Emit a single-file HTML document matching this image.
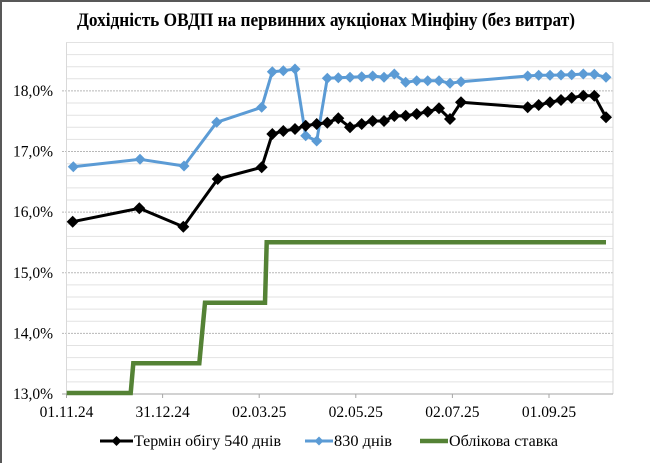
<!DOCTYPE html>
<html><head><meta charset="utf-8"><style>
html,body{margin:0;padding:0;background:#fff;}
svg{display:block;}
text{font-family:"Liberation Serif","Noto Serif CJK SC",serif;fill:#000;}
</style></head><body>
<svg width="650" height="463" viewBox="0 0 650 463" xmlns="http://www.w3.org/2000/svg">
<rect x="0" y="0" width="650" height="463" fill="#fff"/>
<rect x="0" y="0" width="650" height="2" fill="#585858"/>
<rect x="0" y="0" width="2" height="463" fill="#585858"/>
<text x="77" y="26" font-size="19" font-weight="bold" textLength="498" lengthAdjust="spacingAndGlyphs">Дохідність ОВДП на первинних аукціонах Мінфіну (без витрат)</text>
<g stroke="#e2e2e2" stroke-width="1">
<line x1="66" y1="42.5" x2="613" y2="42.5"/><line x1="66" y1="54.6" x2="613" y2="54.6"/><line x1="66" y1="66.7" x2="613" y2="66.7"/><line x1="66" y1="78.8" x2="613" y2="78.8"/>
<line x1="66" y1="103.0" x2="613" y2="103.0"/><line x1="66" y1="115.2" x2="613" y2="115.2"/><line x1="66" y1="127.3" x2="613" y2="127.3"/><line x1="66" y1="139.4" x2="613" y2="139.4"/>
<line x1="66" y1="163.7" x2="613" y2="163.7"/><line x1="66" y1="175.8" x2="613" y2="175.8"/><line x1="66" y1="187.9" x2="613" y2="187.9"/><line x1="66" y1="200.0" x2="613" y2="200.0"/>
<line x1="66" y1="224.3" x2="613" y2="224.3"/><line x1="66" y1="236.4" x2="613" y2="236.4"/><line x1="66" y1="248.5" x2="613" y2="248.5"/><line x1="66" y1="260.6" x2="613" y2="260.6"/>
<line x1="66" y1="284.9" x2="613" y2="284.9"/><line x1="66" y1="297.0" x2="613" y2="297.0"/><line x1="66" y1="309.1" x2="613" y2="309.1"/><line x1="66" y1="321.2" x2="613" y2="321.2"/>
<line x1="66" y1="345.5" x2="613" y2="345.5"/><line x1="66" y1="357.6" x2="613" y2="357.6"/><line x1="66" y1="369.8" x2="613" y2="369.8"/><line x1="66" y1="381.9" x2="613" y2="381.9"/>
</g>
<g stroke="#b8b8b8" stroke-width="1" stroke-dasharray="2,1">
<line x1="62" y1="90.9" x2="613" y2="90.9"/>
<line x1="62" y1="151.5" x2="613" y2="151.5"/>
<line x1="62" y1="212.1" x2="613" y2="212.1"/>
<line x1="62" y1="272.8" x2="613" y2="272.8"/>
<line x1="62" y1="333.4" x2="613" y2="333.4"/>
</g>
<g stroke="#d9d9d9" stroke-width="1" fill="none">
<line x1="66.5" y1="42.5" x2="66.5" y2="394"/>
<line x1="613" y1="42.5" x2="613" y2="394"/>
</g>
<g stroke="#a6a6a6" stroke-width="1">
<line x1="62" y1="394" x2="613" y2="394"/>
<line x1="66.5" y1="394" x2="66.5" y2="398"/>
<line x1="162.6" y1="394" x2="162.6" y2="398"/>
<line x1="259.2" y1="394" x2="259.2" y2="398"/>
<line x1="355.8" y1="394" x2="355.8" y2="398"/>
<line x1="452.4" y1="394" x2="452.4" y2="398"/>
<line x1="549" y1="394" x2="549" y2="398"/>
</g>
<g font-size="15.5" text-anchor="end">
<text x="53" y="96">18,0%</text>
<text x="53" y="156.6">17,0%</text>
<text x="53" y="217.2">16,0%</text>
<text x="53" y="277.9">15,0%</text>
<text x="53" y="338.5">14,0%</text>
<text x="53" y="399.1">13,0%</text>
</g>
<g font-size="15.5" text-anchor="middle">
<text x="66.5" y="417">01.11.24</text>
<text x="162.6" y="417">31.12.24</text>
<text x="259.2" y="417">02.03.25</text>
<text x="355.8" y="417">02.05.25</text>
<text x="452.4" y="417">02.07.25</text>
<text x="549" y="417">01.09.25</text>
</g>
<polyline fill="none" stroke="#548235" stroke-width="4.5" stroke-linejoin="miter" points="66.7,393 130.7,393 133.3,363.3 199.3,363.3 205,302.7 265,302.7 266.7,242.3 606,242.3"/>
<polyline fill="none" stroke="#5b9bd5" stroke-width="3" stroke-linejoin="round" points="73.3,166.7 140,159.3 184,166 216.7,122.3 261.7,107.3 272.3,71.7 283.3,70.7 295,69 305.7,135.7 316.7,141 327.3,78.3 338.3,77.7 350,77.3 361.7,76.7 372.7,76 384,77.3 394.3,74 405.7,82.3 416.7,80.7 427.7,80.7 439,80.7 450,83.3 461,81.7 527.7,76 538.7,75.3 550,75.3 561,75 571.7,74.7 583.3,74 594.3,74.3 606,77.3"/>
<g fill="#5b9bd5" id="bm">
<path d="M73.3,161.2l5.5,5.5l-5.5,5.5l-5.5,-5.5z"/>
<path d="M140,153.8l5.5,5.5l-5.5,5.5l-5.5,-5.5z"/>
<path d="M184,160.5l5.5,5.5l-5.5,5.5l-5.5,-5.5z"/>
<path d="M216.7,116.8l5.5,5.5l-5.5,5.5l-5.5,-5.5z"/>
<path d="M261.7,101.8l5.5,5.5l-5.5,5.5l-5.5,-5.5z"/>
<path d="M272.3,66.2l5.5,5.5l-5.5,5.5l-5.5,-5.5z"/>
<path d="M283.3,65.2l5.5,5.5l-5.5,5.5l-5.5,-5.5z"/>
<path d="M295,63.5l5.5,5.5l-5.5,5.5l-5.5,-5.5z"/>
<path d="M305.7,130.2l5.5,5.5l-5.5,5.5l-5.5,-5.5z"/>
<path d="M316.7,135.5l5.5,5.5l-5.5,5.5l-5.5,-5.5z"/>
<path d="M327.3,72.8l5.5,5.5l-5.5,5.5l-5.5,-5.5z"/>
<path d="M338.3,72.2l5.5,5.5l-5.5,5.5l-5.5,-5.5z"/>
<path d="M350,71.8l5.5,5.5l-5.5,5.5l-5.5,-5.5z"/>
<path d="M361.7,71.2l5.5,5.5l-5.5,5.5l-5.5,-5.5z"/>
<path d="M372.7,70.5l5.5,5.5l-5.5,5.5l-5.5,-5.5z"/>
<path d="M384,71.8l5.5,5.5l-5.5,5.5l-5.5,-5.5z"/>
<path d="M394.3,68.5l5.5,5.5l-5.5,5.5l-5.5,-5.5z"/>
<path d="M405.7,76.8l5.5,5.5l-5.5,5.5l-5.5,-5.5z"/>
<path d="M416.7,75.2l5.5,5.5l-5.5,5.5l-5.5,-5.5z"/>
<path d="M427.7,75.2l5.5,5.5l-5.5,5.5l-5.5,-5.5z"/>
<path d="M439,75.2l5.5,5.5l-5.5,5.5l-5.5,-5.5z"/>
<path d="M450,77.8l5.5,5.5l-5.5,5.5l-5.5,-5.5z"/>
<path d="M461,76.2l5.5,5.5l-5.5,5.5l-5.5,-5.5z"/>
<path d="M527.7,70.5l5.5,5.5l-5.5,5.5l-5.5,-5.5z"/>
<path d="M538.7,69.8l5.5,5.5l-5.5,5.5l-5.5,-5.5z"/>
<path d="M550,69.8l5.5,5.5l-5.5,5.5l-5.5,-5.5z"/>
<path d="M561,69.5l5.5,5.5l-5.5,5.5l-5.5,-5.5z"/>
<path d="M571.7,69.2l5.5,5.5l-5.5,5.5l-5.5,-5.5z"/>
<path d="M583.3,68.5l5.5,5.5l-5.5,5.5l-5.5,-5.5z"/>
<path d="M594.3,68.8l5.5,5.5l-5.5,5.5l-5.5,-5.5z"/>
<path d="M606,71.8l5.5,5.5l-5.5,5.5l-5.5,-5.5z"/>
</g>
<polyline fill="none" stroke="#000" stroke-width="3" stroke-linejoin="round" points="72.7,221.7 139.3,208.3 183.3,226.7 217.7,179 261.7,167.3 272.3,134 283.3,131 295,129 305.7,125.7 316.7,124 327.3,122.7 338.3,118.3 350,127.3 361.7,124 372.7,121 384,121 394.3,116 405.7,115.7 416.7,114 427.7,111.7 439,108.3 450,119 461,102.3 527.7,107.3 538.7,105 550,102.3 561,100 571.7,97.7 583.3,95.7 594.3,95.7 606,117.3"/>
<g fill="#000">
<path d="M72.7,215.7l6,6l-6,6l-6,-6z"/>
<path d="M139.3,202.3l6,6l-6,6l-6,-6z"/>
<path d="M183.3,220.7l6,6l-6,6l-6,-6z"/>
<path d="M217.7,173l6,6l-6,6l-6,-6z"/>
<path d="M261.7,161.3l6,6l-6,6l-6,-6z"/>
<path d="M272.3,128l6,6l-6,6l-6,-6z"/>
<path d="M283.3,125l6,6l-6,6l-6,-6z"/>
<path d="M295,123l6,6l-6,6l-6,-6z"/>
<path d="M305.7,119.7l6,6l-6,6l-6,-6z"/>
<path d="M316.7,118l6,6l-6,6l-6,-6z"/>
<path d="M327.3,116.7l6,6l-6,6l-6,-6z"/>
<path d="M338.3,112.3l6,6l-6,6l-6,-6z"/>
<path d="M350,121.3l6,6l-6,6l-6,-6z"/>
<path d="M361.7,118l6,6l-6,6l-6,-6z"/>
<path d="M372.7,115l6,6l-6,6l-6,-6z"/>
<path d="M384,115l6,6l-6,6l-6,-6z"/>
<path d="M394.3,110l6,6l-6,6l-6,-6z"/>
<path d="M405.7,109.7l6,6l-6,6l-6,-6z"/>
<path d="M416.7,108l6,6l-6,6l-6,-6z"/>
<path d="M427.7,105.7l6,6l-6,6l-6,-6z"/>
<path d="M439,102.3l6,6l-6,6l-6,-6z"/>
<path d="M450,113l6,6l-6,6l-6,-6z"/>
<path d="M461,96.3l6,6l-6,6l-6,-6z"/>
<path d="M527.7,101.3l6,6l-6,6l-6,-6z"/>
<path d="M538.7,99l6,6l-6,6l-6,-6z"/>
<path d="M550,96.3l6,6l-6,6l-6,-6z"/>
<path d="M561,94l6,6l-6,6l-6,-6z"/>
<path d="M571.7,91.7l6,6l-6,6l-6,-6z"/>
<path d="M583.3,89.7l6,6l-6,6l-6,-6z"/>
<path d="M594.3,89.7l6,6l-6,6l-6,-6z"/>
<path d="M606,111.3l6,6l-6,6l-6,-6z"/>
</g>
<line x1="100" y1="441" x2="133" y2="441" stroke="#000" stroke-width="3"/>
<path d="M116.5,436l5,5l-5,5l-5,-5z" fill="#000"/>
<text x="134" y="446" font-size="15.5" textLength="147" lengthAdjust="spacingAndGlyphs">Термін обігу 540 днів</text>
<line x1="305" y1="441" x2="333" y2="441" stroke="#5b9bd5" stroke-width="3"/>
<path d="M319,436.5l4.5,4.5l-4.5,4.5l-4.5,-4.5z" fill="#5b9bd5"/>
<text x="334" y="446" font-size="15.5" textLength="58" lengthAdjust="spacingAndGlyphs">830 днів</text>
<line x1="420" y1="441" x2="448" y2="441" stroke="#548235" stroke-width="4.5"/>
<text x="449" y="446" font-size="15.5" textLength="109" lengthAdjust="spacingAndGlyphs">Облікова ставка</text>
</svg>
</body></html>
